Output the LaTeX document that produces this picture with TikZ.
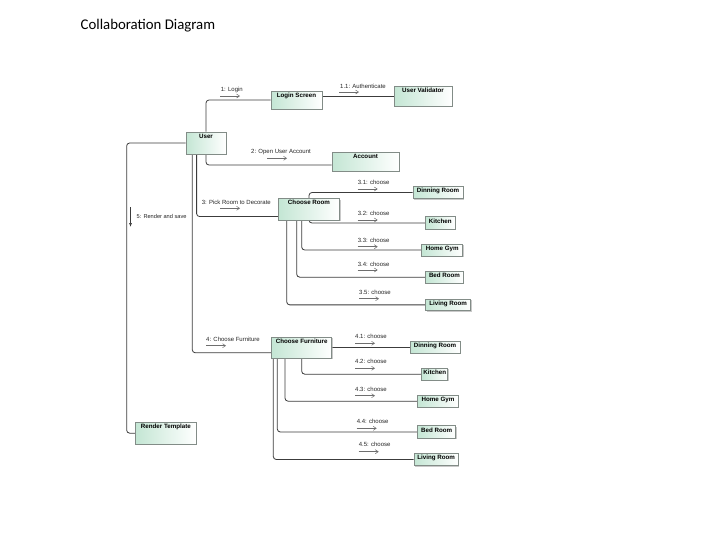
\documentclass[tikz,border=0pt]{standalone}
\usepackage{fontspec}
\setmainfont{Liberation Sans}
\newfontfamily\titlefont{Carlito}
\usetikzlibrary{fit,shadows,arrows.meta,backgrounds}
\definecolor{boxgreen}{RGB}{196,230,212}
\definecolor{boxline}{RGB}{130,140,135}
\definecolor{connline}{RGB}{60,60,60}
\definecolor{msgline}{RGB}{110,110,110}
\tikzset{
 umlbox/.style={draw=boxline, line width=0.7pt, left color=boxgreen, right color=white, inner sep=0pt,
   drop shadow={shadow xshift=1pt, shadow yshift=-1pt, fill=black!35, opacity=0.6}},
 boxtext/.style={font=\fontsize{6.2}{7}\selectfont\bfseries, inner sep=0pt, anchor=north, yshift=-2pt},
 conn/.style={draw=connline, line width=0.8pt, rounded corners=3pt},
 msgtext/.style={font=\fontsize{6}{7}\selectfont, anchor=west, inner sep=0pt, text=black!85},
 msgarrow/.style={draw=msgline, line width=0.5pt, -{Straight Barb[length=3pt, width=4pt]}},
}
\newcommand\umlbox[6]{\node[umlbox, fit={(#2,#3) (#4,#5)}] (#1) {}; \node[boxtext] (#1-t) at (#1.north) {#6};}
\newcommand\msglabel[6]{%
 \node[msgtext] (#1) at (#2,#3) {#6};
 \coordinate (#1-a) at (#4,#5);
 \draw[msgarrow] (#1-a) -- ++(20,0);}
\begin{document}
\begin{tikzpicture}[x=1pt,y=-1pt]
\useasboundingbox (0,0) rectangle (705,552);
\node[font=\titlefont\fontsize{14.8}{17}\selectfont, anchor=west, inner sep=0pt] (title) at (80.5,26) {Collaboration Diagram};

\umlbox{login}{271}{91}{322}{109}{Login Screen}
\umlbox{validator}{394}{86}{452}{106}{User Validator}
\umlbox{user}{186}{132}{226}{154}{User}
\umlbox{account}{332}{152}{399}{171}{Account}
\umlbox{room}{278.5}{198.5}{339.5}{220}{Choose Room}
\umlbox{dinning1}{413}{186.5}{463}{198.5}{Dinning Room}
\umlbox{kitchen1}{425.7}{216.7}{455}{229.3}{Kitchen}
\umlbox{homegym1}{421.7}{244}{462.7}{256}{Home Gym}
\umlbox{bed1}{425.7}{271}{463.3}{283.3}{Bed Room}
\umlbox{living1}{425.7}{299}{470.7}{310.7}{Living Room}
\umlbox{furniture}{271.7}{337.3}{331.7}{358.3}{Choose Furniture}
\umlbox{dinning2}{410}{341}{460}{353.3}{Dinning Room}
\umlbox{kitchen2}{421.7}{368.3}{447.7}{380}{Kitchen}
\umlbox{homegym2}{417.7}{395}{458.3}{407.3}{Home Gym}
\umlbox{bed2}{417.7}{425.7}{455.7}{438.3}{Bed Room}
\umlbox{living2}{414}{453.3}{458.3}{465.7}{Living Room}
\umlbox{render}{135.7}{422.3}{196}{444}{Render Template}

\begin{scope}[on background layer]
\fill[white] (0,0) rectangle (705,552);
\draw[conn] (user.north) |- (login.west);
\draw[conn] ([yshift=3.5pt]login.east) -- ([yshift=3.5pt]login.east -| validator.west);
\draw[conn] (user.south) |- ([yshift=-3.5pt]account.west);
\draw[conn] (user.west) -- ++(-59,0) |- (render.west);
\draw[conn] ([xshift=-9.4pt]user.south) |- ([yshift=-7.3pt]room.west);
\draw[conn] ([xshift=-13.7pt]user.south) |- ([yshift=-5pt]furniture.west);
\draw[conn] (room.north) |- (dinning1.west);
\draw[conn] (room.south) |- (kitchen1.west);
\draw[conn] ([xshift=-7.3pt]room.south) |- (homegym1.west);
\draw[conn] ([xshift=-12.3pt]room.south) |- (bed1.west);
\draw[conn] ([xshift=-22.3pt]room.south) |- (living1.west);
\draw[conn] (furniture.east) -- (furniture.east -| dinning2.west);
\draw[conn] (furniture.south) |- (kitchen2.west);
\draw[conn] ([xshift=-16.7pt]furniture.south) |- (homegym2.west);
\draw[conn] ([xshift=-24.4pt]furniture.south) |- (bed2.west);
\draw[conn] ([xshift=-28.4pt]furniture.south) |- (living2.west);
\end{scope}

\msglabel{m1}{220.7}{90}{220}{96}{1: Login}
\msglabel{m11}{340}{86}{339}{92}{1.1: Authenticate}
\msglabel{m2}{251}{151.7}{267}{158.3}{2: Open User Account}
\msglabel{m3}{201.7}{202}{220}{208.3}{3: Pick Room to Decorate}
\msglabel{m4}{206}{339}{206}{345.7}{4: Choose Furniture}
\msglabel{m31}{357.7}{182.7}{357.7}{189}{3.1: choose}
\msglabel{m32}{357.7}{213.3}{357.7}{220}{3.2: choose}
\msglabel{m33}{357.7}{240.7}{357.7}{246.7}{3.3: choose}
\msglabel{m34}{357.7}{264}{357.7}{270}{3.4: choose}
\msglabel{m35}{359}{292}{359}{298.7}{3.5: choose}
\msglabel{m41}{355}{336.7}{355}{343.3}{4.1: choose}
\msglabel{m42}{355}{361.7}{355}{368.3}{4.2: choose}
\msglabel{m43}{355}{389.3}{355}{395.7}{4.3: choose}
\msglabel{m44}{356.7}{421.7}{356.7}{428.3}{4.4: choose}
\msglabel{m45}{358.7}{444.3}{358.7}{451.7}{4.5: choose}

\coordinate (r5a) at (130.5,207);
\coordinate (r5b) at (130.5,227);
\draw[draw=connline, line width=0.6pt, -{Latex[length=4pt,width=3pt]}] (r5a) -- (r5b);
\node[msgtext, font=\fontsize{5.65}{7}\selectfont] (m5) at (136.5,216) {5: Render and save};
\end{tikzpicture}
\end{document}
